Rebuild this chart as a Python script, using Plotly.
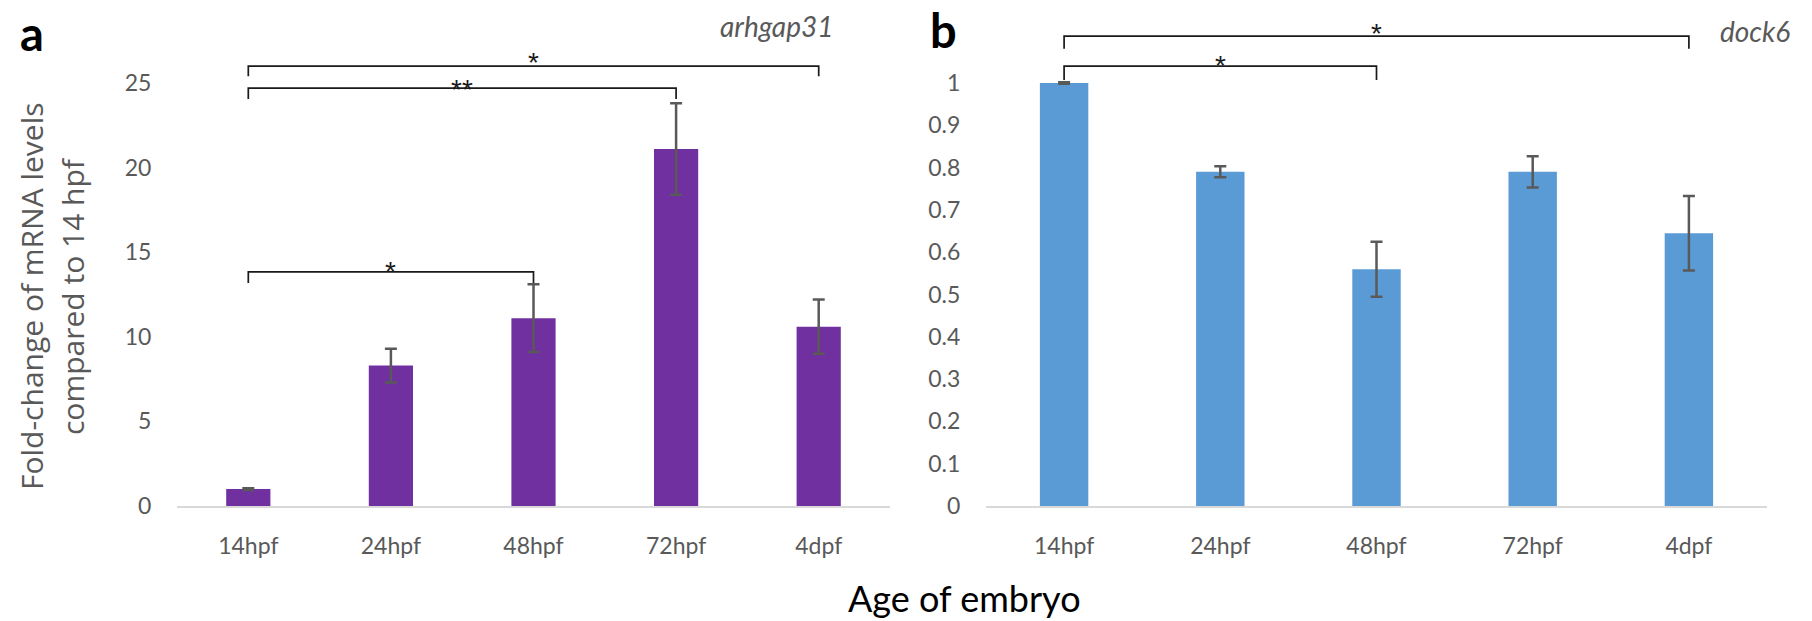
import plotly.graph_objects as go

categories = ["14hpf", "24hpf", "48hpf", "72hpf", "4dpf"]
arhgap31_mean = [1.0, 8.3, 11.1, 21.1, 10.6]
arhgap31_err = [0.05, 1.0, 2.0, 2.7, 1.6]
dock6_mean = [1.0, 0.79, 0.56, 0.79, 0.645]
dock6_err = [0.002, 0.013, 0.065, 0.037, 0.088]

left_ticks = [0, 5, 10, 15, 20, 25]
right_ticks = [0, 0.1, 0.2, 0.3, 0.4, 0.5, 0.6, 0.7, 0.8, 0.9, 1]
right_ticktext = ["0", "0.1", "0.2", "0.3", "0.4", "0.5", "0.6", "0.7", "0.8", "0.9", "1"]

# brackets: (from index, to index, line y, tick bottom y, label, label y)
left_brackets = [(0, 4, 26.0, 25.4, "*", 26.2), (0, 3, 24.7, 24.05, "**", 24.6), (0, 2, 13.83, 13.18, "*", 13.85)]
right_brackets = [(0, 4, 1.111, 1.081, "*", 1.118), (0, 2, 1.040, 1.007, "*", 1.041)]

W, H = 1812, 621
PURPLE = "#7030A0"
BLUE = "#5B9BD5"
GRAY = "#595959"
TICKFONT = dict(family="Lato", size=23, color=GRAY)

fig = go.Figure()
fig.add_trace(go.Bar(x=categories, y=arhgap31_mean, width=0.31, marker=dict(color=PURPLE, line=dict(width=0)),
                     error_y=dict(type="data", array=arhgap31_err, color=GRAY, thickness=2.5, width=6),
                     xaxis="x", yaxis="y", showlegend=False))
fig.add_trace(go.Bar(x=categories, y=dock6_mean, width=0.31, marker=dict(color=BLUE, line=dict(width=0)),
                     error_y=dict(type="data", array=dock6_err, color=GRAY, thickness=2.5, width=6),
                     xaxis="x2", yaxis="y2", showlegend=False))

def px_x(p):
    return p / W

def px_y(p):
    return 1 - p / H

ybot, ytop = 506, 20
left_range = [0, 28.72]
right_range = [0, 1.149]

axis_common = dict(showgrid=False, zeroline=False, tickfont=TICKFONT, automargin=False)
fig.update_layout(
    width=W, height=H, margin=dict(l=0, r=0, t=0, b=0, autoexpand=False),
    paper_bgcolor="white", plot_bgcolor="white",
    xaxis=dict(domain=[px_x(177), px_x(890)], anchor="y", showline=True, linecolor="#D9D9D9", linewidth=2,
               ticks="outside", ticklen=18, tickcolor="rgba(0,0,0,0)", **axis_common),
    yaxis=dict(domain=[px_y(ybot), px_y(ytop)], anchor="x", range=left_range, tickvals=left_ticks,
               ticks="outside", ticklen=20, tickcolor="rgba(0,0,0,0)", showline=False, **axis_common),
    xaxis2=dict(domain=[px_x(986), px_x(1767)], anchor="y2", showline=True, linecolor="#D9D9D9", linewidth=2,
                ticks="outside", ticklen=18, tickcolor="rgba(0,0,0,0)", **axis_common),
    yaxis2=dict(domain=[px_y(ybot), px_y(ytop)], anchor="x2", range=right_range, tickvals=right_ticks,
                ticktext=right_ticktext, ticks="outside", ticklen=20, tickcolor="rgba(0,0,0,0)",
                showline=False, **axis_common),
)

def add_brackets(brackets, xref, yref):
    for i0, i1, yl, yb, lab, ly in brackets:
        fig.add_shape(type="path", xref=xref, yref=yref,
                      path=f"M {i0},{yb} L {i0},{yl} L {i1},{yl} L {i1},{yb}",
                      line=dict(color="#1A1A1A", width=1.7))
        fig.add_annotation(x=(i0 + i1) / 2, y=ly, xref=xref, yref=yref, text=lab, showarrow=False,
                           font=dict(family="Liberation Sans", size=28, color="#1A1A1A"),
                           xanchor="center", yanchor="middle")

add_brackets(left_brackets, "x", "y")
add_brackets(right_brackets, "x2", "y2")

# panel letters
fig.add_annotation(x=px_x(32), y=px_y(33), xref="paper", yref="paper", text="<b>a</b>", showarrow=False,
                   font=dict(family="Lato", size=47, color="black"), xanchor="center", yanchor="middle")
fig.add_annotation(x=px_x(943), y=px_y(30), xref="paper", yref="paper", text="<b>b</b>", showarrow=False,
                   font=dict(family="Lato", size=47, color="black"), xanchor="center", yanchor="middle")
# gene names
fig.add_annotation(x=px_x(776), y=px_y(26), xref="paper", yref="paper", text="<i>arhgap31</i>", showarrow=False,
                   font=dict(family="Lato", size=28, color=GRAY), xanchor="center", yanchor="middle")
fig.add_annotation(x=px_x(1755), y=px_y(31), xref="paper", yref="paper", text="<i>dock6</i>", showarrow=False,
                   font=dict(family="Lato", size=28, color=GRAY), xanchor="center", yanchor="middle")
# y axis title (two lines)
fig.add_annotation(x=px_x(31), y=px_y(296), xref="paper", yref="paper", text="Fold-change of mRNA levels",
                   showarrow=False, textangle=-90, font=dict(family="Open Sans", size=30, color=GRAY),
                   xanchor="center", yanchor="middle")
fig.add_annotation(x=px_x(72), y=px_y(296), xref="paper", yref="paper", text="compared to 14 hpf",
                   showarrow=False, textangle=-90, font=dict(family="Open Sans", size=30, color=GRAY),
                   xanchor="center", yanchor="middle")
# x axis title
fig.add_annotation(x=px_x(964), y=px_y(598), xref="paper", yref="paper", text="Age of embryo",
                   showarrow=False, font=dict(family="Lato", size=36, color="black"),
                   xanchor="center", yanchor="middle")

fig.write_html("out.html")
